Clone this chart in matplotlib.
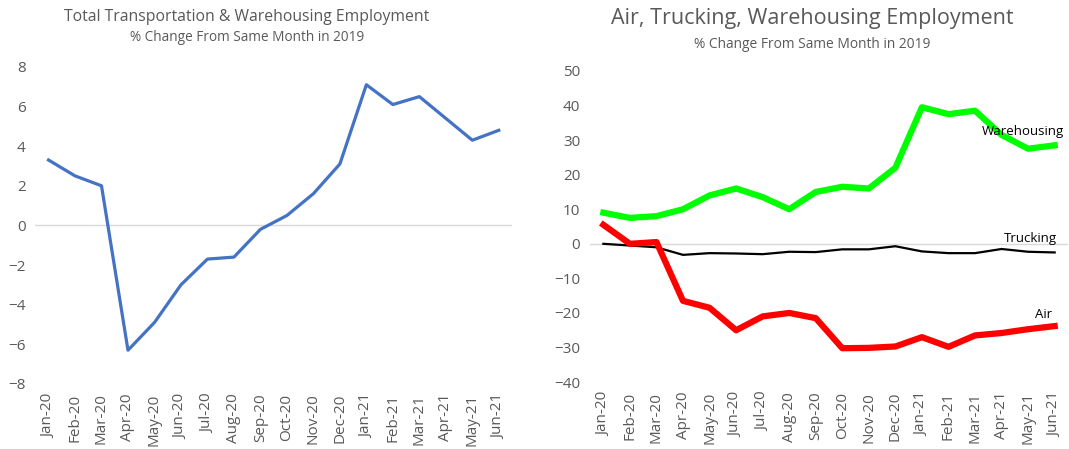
import numpy as np
import matplotlib.pyplot as plt

months = ["Jan-20", "Feb-20", "Mar-20", "Apr-20", "May-20", "Jun-20", "Jul-20", "Aug-20",
          "Sep-20", "Oct-20", "Nov-20", "Dec-20", "Jan-21", "Feb-21", "Mar-21", "Apr-21",
          "May-21", "Jun-21"]

total = [3.3, 2.5, 2.0, -6.3, -4.9, -3.0, -1.7, -1.6, -0.2, 0.5, 1.6, 3.1,
         7.1, 6.1, 6.5, 5.4, 4.3, 4.8]

warehousing = [9, 7.5, 8, 10, 14, 16, 13.5, 10, 15, 16.5, 16, 22,
               39.5, 37.5, 38.5, 31.5, 27.5, 28.5]
trucking = [0, -0.5, -1, -3.2, -2.7, -2.8, -3, -2.3, -2.4, -1.6, -1.6, -0.7,
            -2.2, -2.7, -2.7, -1.5, -2.3, -2.5]
air = [5.5, 0, 0.5, -16.5, -18.5, -25, -21, -20, -21.5, -30.2, -30.1, -29.7,
       -27, -29.8, -26.5, -25.8, -24.7, -23.8]

plt.rcParams['font.family'] = ['Open Sans', 'DejaVu Sans']
gray = '#595959'

fig = plt.figure(figsize=(10.69, 4.49), dpi=100)
ax1 = fig.add_axes([0.033, 0.145, 0.446, 0.706])
ax2 = fig.add_axes([0.552, 0.149, 0.447, 0.693])

x = np.arange(len(months))


def style(ax, ticks):
    for s in ax.spines.values():
        s.set_visible(False)
    ax.axhline(0, color='#d9d9d9', lw=1, zorder=0)
    ax.set_xlim(-0.5, len(months) - 0.5)
    ax.set_yticks(ticks)
    ax.set_xticks(x)
    ax.set_xticklabels(months, rotation=90)
    ax.tick_params(length=0, colors=gray, labelsize=11, pad=7)


# left chart
ax1.plot(x, total, color='#4472c4', lw=2.3)
ax1.set_ylim(-8, 8)
style(ax1, np.arange(-8, 9, 2))
fig.text(0.231, 0.963, "Total Transportation & Warehousing Employment",
         ha='center', va='center', fontsize=11.3, color=gray)
fig.text(0.231, 0.917, "% Change From Same Month in 2019",
         ha='center', va='center', fontsize=9.8, color=gray)

# right chart
ax2.plot(x, warehousing, color='#00ff00', lw=4.5)
ax2.plot(x, trucking, color='black', lw=1.6)
ax2.plot(x, air, color='#ff0000', lw=4.5)
ax2.set_ylim(-40, 50)
style(ax2, np.arange(-40, 51, 10))
ax2.text(15.8, 32.5, "Warehousing", ha='center', va='center', fontsize=9.5, color='black')
ax2.text(16.1, 1.6, "Trucking", ha='center', va='center', fontsize=9.5, color='black')
ax2.text(16.6, -20.5, "Air", ha='center', va='center', fontsize=9.5, color='black')
fig.text(0.760, 0.958, "Air, Trucking, Warehousing Employment",
         ha='center', va='center', fontsize=15.5, color=gray)
fig.text(0.760, 0.900, "% Change From Same Month in 2019",
         ha='center', va='center', fontsize=9.9, color=gray)

fig.savefig("out.png", dpi=100)
